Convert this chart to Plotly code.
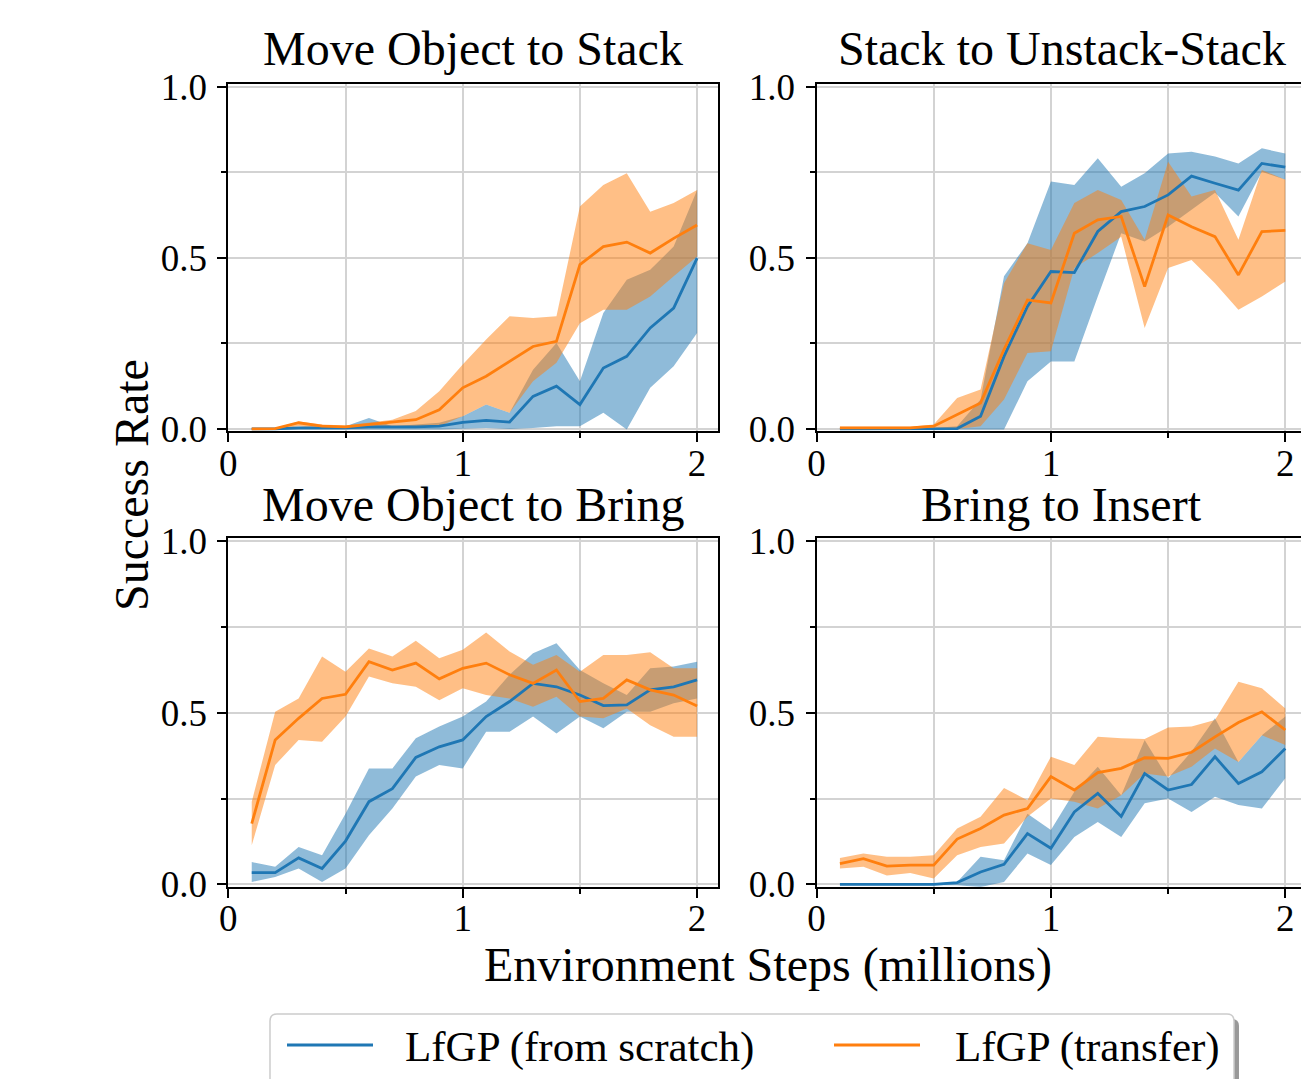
import plotly.graph_objects as go

# ---------------- data ----------------
steps = [0.1, 0.2, 0.3, 0.4, 0.5, 0.6, 0.7, 0.8, 0.9, 1.0,
         1.1, 1.2, 1.3, 1.4, 1.5, 1.6, 1.7, 1.8, 1.9, 2.0]

panel_titles = ["Move Object to Stack", "Stack to Unstack-Stack",
                "Move Object to Bring", "Bring to Insert"]
series_names = ["LfGP (from scratch)", "LfGP (transfer)"]
x_label = "Environment Steps (millions)"
y_label = "Success Rate"
x_tick_vals = [0, 1, 2]
x_tick_text = ["0", "1", "2"]
x_minor_vals = [0.5, 1.5]
y_tick_vals = [0.0, 0.5, 1.0]
y_tick_text = ["0.0", "0.5", "1.0"]
y_minor_vals = [0.25, 0.75]

# Move Object to Stack
mos_scratch_mean = [0.0, 0.0, 0.003, 0.003, 0.003, 0.006, 0.005, 0.006, 0.008, 0.019,
                    0.025, 0.020, 0.095, 0.125, 0.071, 0.178, 0.212, 0.295, 0.353, 0.499]
mos_scratch_hi = [0.003, 0.003, 0.003, 0.003, 0.008, 0.032, 0.008, 0.013, 0.018, 0.037,
                  0.071, 0.047, 0.173, 0.251, 0.139, 0.339, 0.436, 0.465, 0.533, 0.698]
mos_scratch_lo = [-0.002, -0.002, -0.002, -0.002, -0.002, -0.002, -0.002, -0.002, -0.002, 0.0,
                  0.003, 0.0, 0.003, 0.008, 0.008, 0.047, -0.002, 0.120, 0.183, 0.280]
mos_transfer_mean = [0.0, 0.001, 0.018, 0.008, 0.006, 0.013, 0.018, 0.027, 0.056, 0.120,
                     0.154, 0.197, 0.241, 0.256, 0.480, 0.533, 0.546, 0.514, 0.557, 0.596]
mos_transfer_hi = [0.003, 0.003, 0.022, 0.013, 0.010, 0.018, 0.027, 0.052, 0.110, 0.188,
                   0.261, 0.329, 0.324, 0.329, 0.650, 0.713, 0.747, 0.635, 0.660, 0.698]
mos_transfer_lo = [-0.002, -0.002, 0.008, 0.0, 0.0, 0.003, 0.003, 0.003, 0.008, 0.037,
                   0.071, 0.047, 0.139, 0.193, 0.309, 0.348, 0.348, 0.387, 0.446, 0.504]

# Stack to Unstack-Stack
sus_scratch_mean = [0.0, 0.0, 0.0, 0.0, 0.0, 0.001, 0.037, 0.212, 0.358, 0.460,
                    0.457, 0.577, 0.635, 0.650, 0.684, 0.739, 0.718, 0.698, 0.776, 0.765]
sus_scratch_hi = [0.003, 0.003, 0.003, 0.003, 0.003, 0.008, 0.086, 0.446, 0.543, 0.723,
                  0.713, 0.791, 0.708, 0.747, 0.805, 0.810, 0.796, 0.776, 0.820, 0.805]
sus_scratch_lo = [-0.002, -0.002, -0.002, -0.002, -0.002, -0.002, -0.002, -0.002, 0.139, 0.197,
                  0.197, 0.387, 0.572, 0.548, 0.591, 0.640, 0.690, 0.621, 0.752, 0.728]
sus_transfer_mean = [0.003, 0.003, 0.003, 0.003, 0.008, 0.042, 0.076, 0.232, 0.377, 0.368,
                     0.572, 0.611, 0.621, 0.416, 0.625, 0.591, 0.562, 0.450, 0.577, 0.580]
sus_transfer_hi = [0.006, 0.006, 0.006, 0.006, 0.013, 0.090, 0.115, 0.426, 0.543, 0.523,
                   0.660, 0.698, 0.669, 0.553, 0.781, 0.679, 0.698, 0.553, 0.757, 0.728]
sus_transfer_lo = [-0.002, -0.002, -0.002, -0.002, -0.002, 0.0, 0.008, 0.086, 0.222, 0.227,
                   0.470, 0.514, 0.562, 0.295, 0.470, 0.494, 0.426, 0.348, 0.387, 0.431]

# Move Object to Bring
mob_scratch_mean = [0.034, 0.034, 0.077, 0.046, 0.126, 0.241, 0.279, 0.370, 0.401, 0.421,
                    0.489, 0.533, 0.586, 0.576, 0.552, 0.521, 0.523, 0.567, 0.576, 0.596]
mob_scratch_hi = [0.065, 0.051, 0.109, 0.085, 0.206, 0.338, 0.338, 0.426, 0.460, 0.489,
                  0.533, 0.611, 0.674, 0.703, 0.625, 0.586, 0.552, 0.630, 0.635, 0.649]
mob_scratch_lo = [0.007, 0.021, 0.046, 0.007, 0.046, 0.143, 0.221, 0.314, 0.348, 0.338,
                  0.445, 0.445, 0.489, 0.440, 0.489, 0.455, 0.503, 0.503, 0.528, 0.542]
mob_transfer_mean = [0.177, 0.421, 0.484, 0.542, 0.554, 0.649, 0.625, 0.645, 0.599, 0.630,
                     0.645, 0.611, 0.586, 0.625, 0.533, 0.542, 0.596, 0.567, 0.552, 0.520]
mob_transfer_hi = [0.241, 0.503, 0.542, 0.664, 0.620, 0.688, 0.664, 0.710, 0.659, 0.684,
                   0.734, 0.679, 0.640, 0.669, 0.620, 0.669, 0.669, 0.677, 0.630, 0.630]
mob_transfer_lo = [0.114, 0.348, 0.421, 0.416, 0.489, 0.606, 0.586, 0.576, 0.537, 0.572,
                   0.552, 0.542, 0.518, 0.547, 0.489, 0.484, 0.513, 0.464, 0.430, 0.430]

# Bring to Insert
bti_scratch_mean = [0.0, 0.0, 0.0, 0.0, 0.0, 0.005, 0.036, 0.058, 0.148, 0.105,
                    0.211, 0.265, 0.198, 0.323, 0.275, 0.291, 0.372, 0.294, 0.328, 0.396]
bti_scratch_hi = [0.002, 0.002, 0.002, 0.002, 0.002, 0.007, 0.080, 0.070, 0.206, 0.158,
                  0.270, 0.343, 0.260, 0.421, 0.309, 0.387, 0.484, 0.357, 0.435, 0.489]
bti_scratch_lo = [-0.003, -0.003, -0.003, -0.003, -0.003, -0.003, -0.008, 0.007, 0.090, 0.056,
                  0.138, 0.182, 0.138, 0.236, 0.250, 0.211, 0.255, 0.231, 0.221, 0.309]
bti_transfer_mean = [0.060, 0.075, 0.053, 0.056, 0.056, 0.132, 0.163, 0.202, 0.221, 0.314,
                     0.275, 0.326, 0.338, 0.369, 0.367, 0.385, 0.430, 0.472, 0.503, 0.450]
bti_transfer_hi = [0.077, 0.090, 0.080, 0.080, 0.085, 0.163, 0.197, 0.281, 0.245, 0.372,
                   0.348, 0.430, 0.426, 0.424, 0.457, 0.460, 0.479, 0.591, 0.572, 0.513]
bti_transfer_lo = [0.046, 0.051, 0.026, 0.033, 0.017, 0.085, 0.109, 0.119, 0.197, 0.250,
                   0.241, 0.221, 0.260, 0.323, 0.314, 0.343, 0.396, 0.357, 0.435, 0.406]

panels = [
    ((mos_scratch_mean, mos_scratch_lo, mos_scratch_hi),
     (mos_transfer_mean, mos_transfer_lo, mos_transfer_hi)),
    ((sus_scratch_mean, sus_scratch_lo, sus_scratch_hi),
     (sus_transfer_mean, sus_transfer_lo, sus_transfer_hi)),
    ((mob_scratch_mean, mob_scratch_lo, mob_scratch_hi),
     (mob_transfer_mean, mob_transfer_lo, mob_transfer_hi)),
    ((bti_scratch_mean, bti_scratch_lo, bti_scratch_hi),
     (bti_transfer_mean, bti_transfer_lo, bti_transfer_hi)),
]

# ---------------- style ----------------
W, H = 1301, 1079
SERIF = "Liberation Serif, Times New Roman, serif"
COLORS = ["#1f77b4", "#ff7f0e"]
FILLS = ["rgba(31,119,180,0.5)", "rgba(255,127,14,0.5)"]
GRID = "#d3d3d3"
TITLE_SIZE = 48
TICK_SIZE = 37
LEGEND_SIZE = 43


def fx(p):
    return p / W


def fy(p):
    return 1 - p / H


# pixel geometry of the axes boxes
COL_X = [(228.3, 718.3), (816.5, 1301.0)]
ROW_Y = [(83.7, 431.3), (538.3, 886.7)]
PX_PER_UNIT_X = 234.4
X_RANGES = [[0, (COL_X[0][1] - COL_X[0][0]) / PX_PER_UNIT_X],
            [0, (COL_X[1][1] - COL_X[1][0]) / PX_PER_UNIT_X]]
Y_RANGE = [-0.007, 1.009]

fig = go.Figure()

for i, panel in enumerate(panels):
    suffix = "" if i == 0 else str(i + 1)
    xa, ya = "x" + suffix, "y" + suffix
    for k, (mean, lo, hi) in enumerate(panel):
        fig.add_trace(go.Scatter(
            x=steps + steps[::-1], y=hi + lo[::-1], fill="toself",
            fillcolor=FILLS[k], line=dict(width=0), mode="lines",
            hoverinfo="skip", showlegend=False, xaxis=xa, yaxis=ya))
    for k, (mean, lo, hi) in enumerate(panel):
        fig.add_trace(go.Scatter(
            x=steps, y=mean, mode="lines", name=series_names[k],
            line=dict(color=COLORS[k], width=2.8),
            showlegend=False, xaxis=xa, yaxis=ya))

layout_axes = {}
for i in range(4):
    row, col = divmod(i, 2)
    suffix = "" if i == 0 else str(i + 1)
    xdom = [fx(COL_X[col][0]), min(1.0, fx(COL_X[col][1]))]
    ydom = [fy(ROW_Y[row][1]), fy(ROW_Y[row][0])]
    layout_axes["xaxis" + suffix] = dict(
        domain=xdom, range=X_RANGES[col], anchor="y" + suffix, automargin=False,
        tickmode="array", tickvals=x_tick_vals, ticktext=x_tick_text,
        ticks="outside", ticklen=9, tickwidth=2, tickcolor="black",
        showline=True, linewidth=2, linecolor="black", mirror=True,
        showgrid=True, gridcolor=GRID, gridwidth=1.5, zeroline=False,
        tickfont=dict(family=SERIF, size=TICK_SIZE, color="black"),
        ticklabelstandoff=-11,
        minor=dict(tickmode="array", tickvals=x_minor_vals, ticks="outside", ticklen=5,
                   tickwidth=2, tickcolor="black", showgrid=True,
                   gridcolor=GRID, gridwidth=1.5),
        fixedrange=True)
    layout_axes["yaxis" + suffix] = dict(
        domain=ydom, range=Y_RANGE, anchor="x" + suffix, automargin=False,
        tickmode="array", tickvals=y_tick_vals, ticktext=y_tick_text,
        ticks="outside", ticklen=9, tickwidth=2, tickcolor="black",
        showline=True, linewidth=2, linecolor="black", mirror=(col == 0),
        showgrid=True, gridcolor=GRID, gridwidth=1.5, zeroline=False,
        tickfont=dict(family=SERIF, size=TICK_SIZE, color="black"),
        ticklabelstandoff=3,
        minor=dict(tickmode="array", tickvals=y_minor_vals, ticks="outside", ticklen=5,
                   tickwidth=2, tickcolor="black", showgrid=True,
                   gridcolor=GRID, gridwidth=1.5),
        fixedrange=True)

annotations = []
title_centers_x = [473.3, 1061.7, 473.3, 1061.7]
title_centers_y = [49.0, 504.5, 49.0, 504.5]
for i, t in enumerate(panel_titles):
    row, col = divmod(i, 2)
    annotations.append(dict(
        text=t, xref="paper", yref="paper",
        x=fx(title_centers_x[col]), y=fy(title_centers_y[row]),
        xanchor="center", yanchor="middle", showarrow=False,
        font=dict(family=SERIF, size=TITLE_SIZE, color="black")))

annotations.append(dict(
    text=x_label, xref="paper", yref="paper", x=fx(767.5), y=fy(965),
    xanchor="center", yanchor="middle", showarrow=False,
    font=dict(family=SERIF, size=TITLE_SIZE, color="black")))
annotations.append(dict(
    text=y_label, xref="paper", yref="paper", x=fx(131), y=fy(485),
    xanchor="center", yanchor="middle", showarrow=False, textangle=-90,
    font=dict(family=SERIF, size=TITLE_SIZE, color="black")))

# ---------------- legend (drawn manually) ----------------
def rrect_path(x0, y0, x1, y1, r):
    pts = [
        ("M", [(x0 + r, y0)]), ("L", [(x1 - r, y0)]),
        ("Q", [(x1, y0), (x1, y0 + r)]), ("L", [(x1, y1 - r)]),
        ("Q", [(x1, y1), (x1 - r, y1)]), ("L", [(x0 + r, y1)]),
        ("Q", [(x0, y1), (x0, y1 - r)]), ("L", [(x0, y0 + r)]),
        ("Q", [(x0, y0), (x0 + r, y0)]),
    ]
    s = ""
    for cmd, ps in pts:
        s += cmd + " ".join(f"{fx(px):.5f},{fy(py):.5f}" for px, py in ps) + " "
    return s + "Z"


shapes = [
    dict(type="path", xref="paper", yref="paper",
         path=rrect_path(275, 1019, 1239, 1110, 7),
         fillcolor="rgba(0,0,0,0.4)", line=dict(width=0)),
    dict(type="path", xref="paper", yref="paper",
         path=rrect_path(270, 1014, 1234, 1105, 7),
         fillcolor="white", line=dict(color="#cccccc", width=1.5)),
]
legend_line_x = [(287, 373), (834, 920)]
legend_text_x = [403, 953]
for k in range(2):
    shapes.append(dict(type="line", xref="paper", yref="paper",
                       x0=fx(legend_line_x[k][0]), x1=fx(legend_line_x[k][1]),
                       y0=fy(1045), y1=fy(1045),
                       line=dict(color=COLORS[k], width=2.8)))
    annotations.append(dict(
        text=series_names[k], xref="paper", yref="paper",
        x=fx(legend_text_x[k]), y=fy(1046.5), xanchor="left", yanchor="middle",
        showarrow=False, font=dict(family=SERIF, size=LEGEND_SIZE, color="black")))

fig.update_layout(
    template="none",
    width=W, height=H, autosize=False,
    margin=dict(l=0, r=0, t=0, b=0, pad=0),
    paper_bgcolor="white", plot_bgcolor="white",
    showlegend=False, annotations=annotations, shapes=shapes,
    font=dict(family=SERIF, color="black"),
    **layout_axes)

fig.write_html("out.html",
               config={"displayModeBar": False},
               post_script="document.body.style.margin='0';document.body.style.overflow='hidden';")
